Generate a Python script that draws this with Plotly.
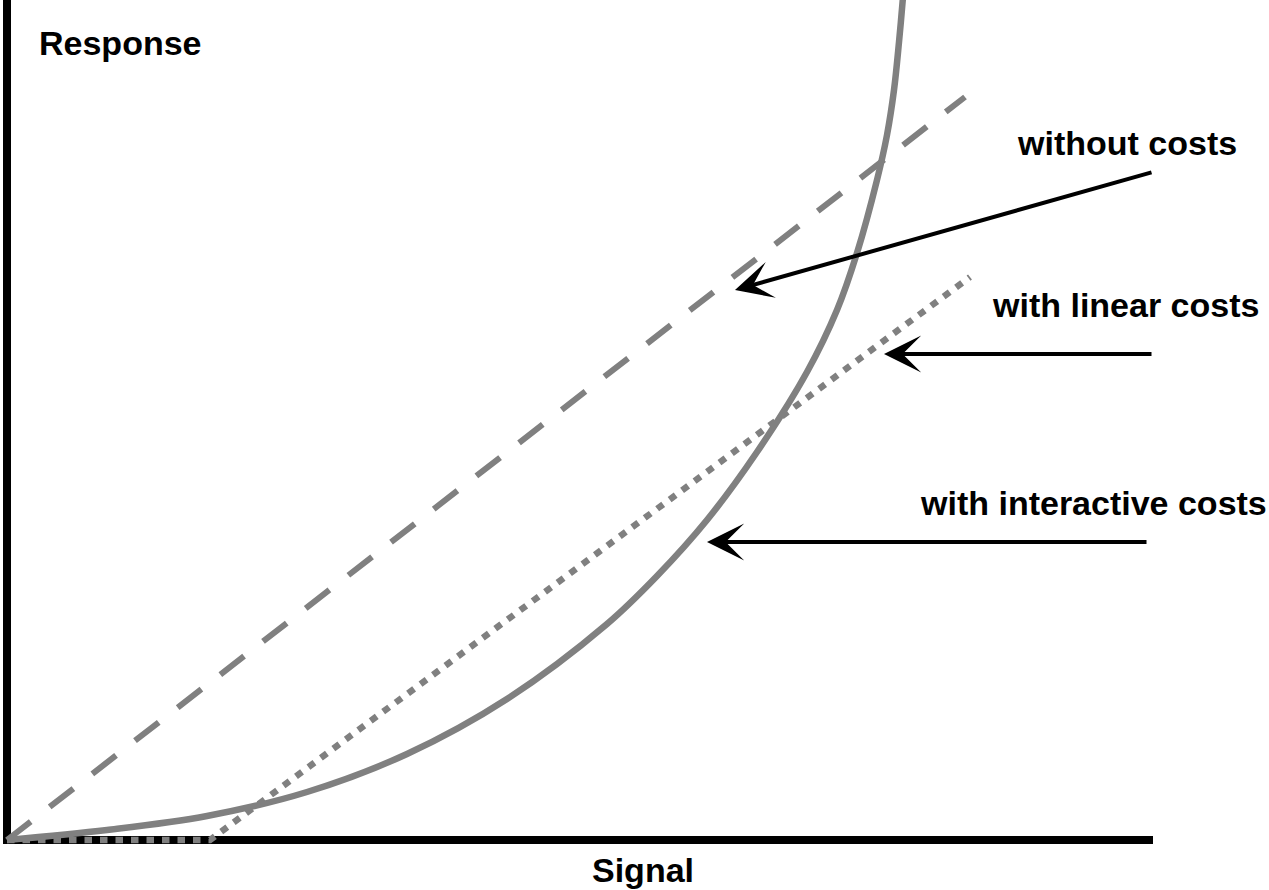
import plotly.graph_objects as go

# ---- data ----
signal_interactive = [0.00, 1.00, 2.00, 3.00, 4.00, 5.00, 6.00, 6.50, 7.00, 7.50, 8.00,
                      8.30, 8.50, 8.70, 8.80, 8.87, 8.92, 8.96, 9.00]
response_interactive = [0.00, 0.10, 0.24, 0.48, 0.86, 1.41, 2.16, 2.64, 3.20, 3.88, 4.68,
                        5.30, 5.87, 6.60, 7.05, 7.50, 7.98, 8.43, 8.95]

signal_linear = [0.00, 2.03, 9.63]
response_linear = [0.00, 0.00, 5.63]

signal_nocost = [0.00, 9.58]
response_nocost = [0.00, 7.43]

labels = ["without costs", "with linear costs", "with interactive costs"]
label_px_x = [1126.5, 1125, 1093.5]
label_px_y = [143.5, 305, 502.5]

arrow_tip_x = [7.28, 8.77, 7.00]
arrow_tip_y = [5.50, 4.86, 2.98]
arrow_dx = [418, 269, 441]
arrow_dy = [-118, 0, 0]

x_title = "Signal"
y_title = "Response"

GRAY = "#808080"
FONT = dict(family="Liberation Sans, Arial, sans-serif", size=34, color="black", weight="bold")

W, H = 1269, 890
L, R, T, B = 3, 116, 0, 46
PW, PH = W - L - R, H - T - B


def fx(px):
    return (px - L) / PW


def fy(py):
    return (H - B - py) / PH


fig = go.Figure()

fig.add_trace(go.Scatter(x=signal_nocost, y=response_nocost, mode="lines",
                         line=dict(color=GRAY, width=6, dash="30px,24px"),
                         showlegend=False, hoverinfo="skip"))
fig.add_trace(go.Scatter(x=signal_linear, y=response_linear, mode="lines",
                         line=dict(color=GRAY, width=6.5, dash="7.5px,8px"),
                         showlegend=False, hoverinfo="skip"))
fig.add_trace(go.Scatter(x=signal_interactive, y=response_interactive, mode="lines",
                         line=dict(color=GRAY, width=6.5, shape="spline", smoothing=1.0),
                         showlegend=False, hoverinfo="skip"))

annotations = []
for tx, ty, dx, dy in zip(arrow_tip_x, arrow_tip_y, arrow_dx, arrow_dy):
    annotations.append(dict(x=tx, y=ty, xref="x", yref="y", text="",
                            showarrow=True, ax=dx, ay=dy, axref="pixel", ayref="pixel",
                            arrowhead=3, arrowsize=1.55, arrowwidth=4, arrowcolor="black",
                            standoff=0, startstandoff=0))

for lab, px, py in zip(labels, label_px_x, label_px_y):
    annotations.append(dict(x=fx(px), y=fy(py), xref="paper", yref="paper", text=lab,
                            showarrow=False, xanchor="center", yanchor="middle", font=FONT))

annotations.append(dict(x=fx(120), y=fy(43.5), xref="paper", yref="paper", text=y_title,
                        showarrow=False, xanchor="center", yanchor="middle", font=FONT))
annotations.append(dict(x=fx(643), y=fy(870), xref="paper", yref="paper", text=x_title,
                        showarrow=False, xanchor="center", yanchor="middle", font=FONT))

axis_common = dict(showgrid=False, showticklabels=False, ticks="", showline=False,
                   zeroline=True, zerolinecolor="black", zerolinewidth=8, fixedrange=True)

fig.update_layout(
    width=W, height=H,
    margin=dict(l=L, r=R, t=T, b=B, pad=0),
    plot_bgcolor="white", paper_bgcolor="white",
    xaxis=dict(range=[-0.04, 11.46], **axis_common),
    yaxis=dict(range=[-0.04, 8.40], **axis_common),
    annotations=annotations,
    showlegend=False,
)

fig.write_html(
    "out.html",
    config={"displayModeBar": False},
    post_script="document.body.style.margin='0';document.body.style.overflow='hidden';",
)
